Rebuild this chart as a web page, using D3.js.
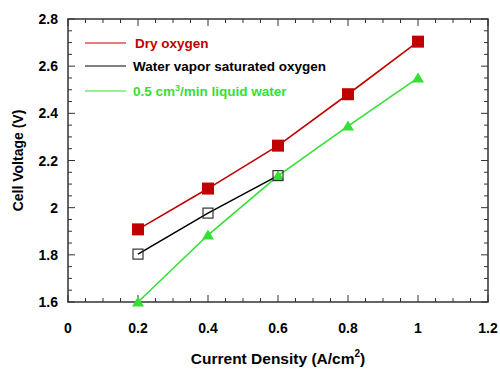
<!DOCTYPE html>
<html>
<head>
<meta charset="utf-8">
<script src="https://cdn.jsdelivr.net/npm/d3@7"></script>
<style>
  body { margin: 0; background: #fff; }
  text { font-family: "Liberation Sans", Arial, sans-serif; font-weight: bold; }
</style>
</head>
<body>
<div id="chart"></div>
<script>
const currentDensity = [0.2, 0.4, 0.6, 0.8, 1.0];
const dryOxygen = [1.908, 2.081, 2.263, 2.481, 2.704];
const vaporOxygen = [1.803, 1.977, 2.136];
const liquidWater = [1.600, 1.884, 2.135, 2.346, 2.550];
const xTicks = [0, 0.2, 0.4, 0.6, 0.8, 1, 1.2];
const yTicks = [1.6, 1.8, 2, 2.2, 2.4, 2.6, 2.8];

const series = [
  { name: "Dry oxygen", color: "#c00000", values: dryOxygen },
  { name: "Water vapor saturated oxygen", color: "#000000", values: vaporOxygen },
  { name: "0.5 cm3/min liquid water", color: "#33e033", values: liquidWater },
];

const width = 500, height = 371;
const margin = { top: 19, right: 12, bottom: 69, left: 68 };

const svg = d3.select("#chart")
  .append("svg")
  .attr("width", width)
  .attr("height", height);

const x = d3.scaleLinear().domain([0, 1.2]).range([margin.left, width - margin.right]);
const y = d3.scaleLinear().domain([1.6, 2.8]).range([height - margin.bottom, margin.top]);

// frame
svg.append("rect")
  .attr("x", x(0))
  .attr("y", y(2.8))
  .attr("width", x(1.2) - x(0))
  .attr("height", y(1.6) - y(2.8))
  .attr("fill", "none")
  .attr("stroke", "#333")
  .attr("stroke-width", 1.5);

// ticks on all four sides, pointing inward
const minorX = d3.range(0, 1.2001, 0.05);
const minorY = d3.range(1.6, 2.8001, 0.05);
const isMajor = v => Math.abs(v * 5 - Math.round(v * 5)) < 1e-6;

const tickG = svg.append("g").attr("stroke", "#333").attr("stroke-width", 1);
minorX.forEach(v => {
  const len = isMajor(v) ? 7 : 4;
  tickG.append("line").attr("x1", x(v)).attr("x2", x(v)).attr("y1", y(1.6)).attr("y2", y(1.6) - len);
  tickG.append("line").attr("x1", x(v)).attr("x2", x(v)).attr("y1", y(2.8)).attr("y2", y(2.8) + len);
});
minorY.forEach(v => {
  const len = isMajor(v) ? 7 : 4;
  tickG.append("line").attr("y1", y(v)).attr("y2", y(v)).attr("x1", x(0)).attr("x2", x(0) + len);
  tickG.append("line").attr("y1", y(v)).attr("y2", y(v)).attr("x1", x(1.2)).attr("x2", x(1.2) - len);
});

// tick labels
svg.append("g")
  .selectAll("text")
  .data(xTicks)
  .enter()
  .append("text")
  .attr("x", d => x(d))
  .attr("y", y(1.6) + 31)
  .attr("text-anchor", "middle")
  .style("font-size", "14px")
  .text(d => d3.format("")(d));

svg.append("g")
  .selectAll("text")
  .data(yTicks)
  .enter()
  .append("text")
  .attr("x", x(0) - 10)
  .attr("y", d => y(d) + 5)
  .attr("text-anchor", "end")
  .style("font-size", "14px")
  .text(d => d3.format("")(d));

// axis titles
const xTitle = svg.append("text")
  .attr("x", (x(0) + x(1.2)) / 2)
  .attr("y", 364)
  .attr("text-anchor", "middle")
  .style("font-size", "15.5px");
xTitle.append("tspan").text("Current Density (A/cm");
xTitle.append("tspan").attr("dy", -7).style("font-size", "10px").text("2");
xTitle.append("tspan").attr("dy", 7).text(")");

svg.append("text")
  .attr("transform", `translate(23, ${(y(1.6) + y(2.8)) / 2}) rotate(-90)`)
  .attr("text-anchor", "middle")
  .style("font-size", "14px")
  .text("Cell Voltage (V)");

// lines and markers
const line = d3.line()
  .x((d, i) => x(currentDensity[i]))
  .y(d => y(d));

const plot = svg.append("g");
series.slice().reverse().forEach(s => {
  plot.append("path")
    .attr("d", line(s.values))
    .attr("fill", "none")
    .attr("stroke", s.color)
    .attr("stroke-width", 1.6);
});

// green triangles, then black open squares, then red filled squares
plot.selectAll(".tri")
  .data(liquidWater)
  .enter()
  .append("path")
  .attr("class", "tri")
  .attr("transform", (d, i) => `translate(${x(currentDensity[i])}, ${y(d)})`)
  .attr("d", "M0,-5.5L6,4.5L-6,4.5Z")
  .attr("fill", "#33e033");

plot.selectAll(".open")
  .data(vaporOxygen)
  .enter()
  .append("rect")
  .attr("class", "open")
  .attr("x", (d, i) => x(currentDensity[i]) - 5)
  .attr("y", d => y(d) - 5)
  .attr("width", 10)
  .attr("height", 10)
  .attr("fill", "none")
  .attr("stroke", "#333")
  .attr("stroke-width", 1.2);

plot.selectAll(".filled")
  .data(dryOxygen)
  .enter()
  .append("rect")
  .attr("class", "filled")
  .attr("x", (d, i) => x(currentDensity[i]) - 6)
  .attr("y", d => y(d) - 6)
  .attr("width", 12)
  .attr("height", 12)
  .attr("fill", "#c00000");

// legend
const legendY = [43, 66, 91];
series.forEach((s, i) => {
  svg.append("line")
    .attr("x1", 85).attr("x2", 126)
    .attr("y1", legendY[i]).attr("y2", legendY[i])
    .attr("stroke", s.color)
    .attr("stroke-width", 1.2);
  const t = svg.append("text")
    .attr("x", i === 0 ? 135 : 133)
    .attr("y", legendY[i] + 5)
    .attr("fill", s.color)
    .style("font-size", "13.5px");
  if (i === 2) {
    t.append("tspan").text("0.5 cm");
    t.append("tspan").attr("dy", -5).style("font-size", "9px").text("3");
    t.append("tspan").attr("dy", 5).text("/min liquid water");
  } else {
    t.text(s.name);
  }
});
</script>
</body>
</html>
